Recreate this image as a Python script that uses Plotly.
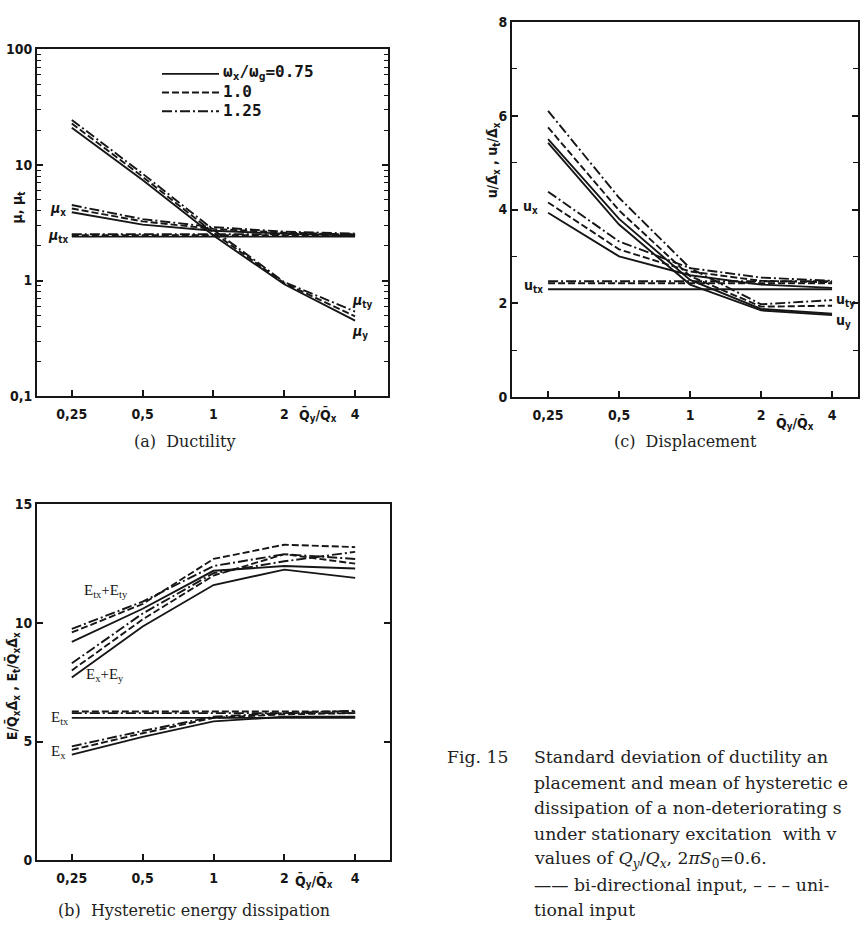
import plotly.graph_objects as go

W, H = 860, 937

# ---------------- data ----------------
ratio = [0.25, 0.5, 1, 2, 4]
ratio_text = ["0,25", "0,5", "1", "2", "4"]

# (a) ductility (omega_x/omega_g = 0.75, 1.0, 1.25)
mu_y_075 = [21.0, 7.4, 2.45, 0.93, 0.45]
mu_y_100 = [22.8, 7.9, 2.6, 0.95, 0.49]
mu_y_125 = [24.5, 8.4, 2.75, 0.97, 0.54]
mu_x_075 = [3.9, 3.05, 2.7, 2.55, 2.45]
mu_x_100 = [4.2, 3.25, 2.8, 2.6, 2.5]
mu_x_125 = [4.5, 3.4, 2.9, 2.65, 2.55]
mu_tx_075 = [2.4, 2.4, 2.4, 2.4, 2.4]
mu_tx_100 = [2.47, 2.47, 2.47, 2.47, 2.47]
mu_tx_125 = [2.52, 2.52, 2.52, 2.52, 2.52]

# (c) displacement
u_y_075 = [5.42, 3.68, 2.4, 1.85, 1.75]
u_ty_075 = [5.5, 3.8, 2.5, 1.88, 1.78]
u_y_100 = [5.75, 3.98, 2.58, 1.93, 1.95]
u_y_125 = [6.1, 4.25, 2.75, 1.98, 2.07]
u_x_075 = [3.93, 3.0, 2.6, 2.4, 2.33]
u_x_100 = [4.15, 3.15, 2.68, 2.48, 2.45]
u_x_125 = [4.38, 3.32, 2.75, 2.55, 2.48]
u_tx_075 = [2.3, 2.3, 2.3, 2.3, 2.3]
u_tx_100 = [2.43, 2.43, 2.43, 2.43, 2.43]
u_tx_125 = [2.47, 2.47, 2.47, 2.47, 2.47]

# (b) hysteretic energy
E_tsum_075 = [9.2, 10.6, 12.2, 12.4, 12.3]
E_tsum_100 = [9.6, 10.8, 12.7, 13.3, 13.2]
E_tsum_125 = [9.75, 10.9, 12.4, 12.9, 12.7]
E_sum_075 = [7.7, 9.85, 11.6, 12.25, 11.9]
E_sum_100 = [8.0, 10.15, 12.0, 12.9, 12.5]
E_sum_125 = [8.3, 10.4, 12.1, 12.6, 13.0]
E_tx_075 = [6.0, 6.0, 6.0, 6.0, 6.0]
E_tx_100 = [6.27, 6.27, 6.27, 6.27, 6.27]
E_tx_125 = [6.2, 6.2, 6.2, 6.2, 6.2]
E_x_075 = [4.45, 5.2, 5.85, 6.05, 6.05]
E_x_100 = [4.65, 5.35, 6.0, 6.15, 6.2]
E_x_125 = [4.8, 5.45, 6.05, 6.2, 6.3]

legend_labels = ["ω<sub>x</sub>/ω<sub>g</sub>=0.75", "1.0", "1.25"]

# ---------------- styling ----------------
INK = "#161616"
DASH = {"075": "solid", "100": "7px,3px", "125": "10px,3px,2px,3px"}
LW = 1.9


def px(x):
    return x / W


def py(y):
    return 1 - y / H


fig = go.Figure()


def add(xa, ya, yvals, key):
    fig.add_trace(go.Scatter(x=ratio, y=yvals, mode="lines", xaxis=xa, yaxis=ya,
                             line=dict(color=INK, width=LW, dash=DASH[key]),
                             showlegend=False, hoverinfo="skip"))


for v, k in [(mu_y_075, "075"), (mu_y_100, "100"), (mu_y_125, "125"),
             (mu_x_075, "075"), (mu_x_100, "100"), (mu_x_125, "125"),
             (mu_tx_075, "075"), (mu_tx_100, "100"), (mu_tx_125, "125")]:
    add("x", "y", v, k)

for v, k in [(u_y_075, "075"), (u_ty_075, "075"), (u_y_100, "100"), (u_y_125, "125"),
             (u_x_075, "075"), (u_x_100, "100"), (u_x_125, "125"),
             (u_tx_075, "075"), (u_tx_100, "100"), (u_tx_125, "125")]:
    add("x2", "y2", v, k)

for v, k in [(E_tsum_075, "075"), (E_tsum_100, "100"), (E_tsum_125, "125"),
             (E_sum_075, "075"), (E_sum_100, "100"), (E_sum_125, "125"),
             (E_tx_075, "075"), (E_tx_100, "100"), (E_tx_125, "125"),
             (E_x_075, "075"), (E_x_100, "100"), (E_x_125, "125")]:
    add("x3", "y3", v, k)

TICKFONT = dict(family="Liberation Sans Narrow, DejaVu Sans Condensed, Arial", size=14,
                color=INK, weight="bold")


def xaxis(dom, rng, anchor):
    return dict(domain=dom, range=rng, type="log", anchor=anchor,
                tickmode="array", tickvals=ratio, ticktext=ratio_text,
                ticks="inside", ticklen=6, tickwidth=1.5, tickcolor=INK,
                showline=True, linecolor=INK, linewidth=2, mirror=True,
                showgrid=False, zeroline=False, tickfont=TICKFONT, ticklabelstandoff=4)


def yaxis_common(dom, anchor):
    return dict(domain=dom, anchor=anchor, ticks="inside", ticklen=6, tickwidth=1.5,
                tickcolor=INK, showline=True, linecolor=INK, linewidth=2,
                mirror="ticks", showgrid=False, zeroline=False, tickfont=TICKFONT)


# panel (a)
xa_dom = [px(37), px(388)]
ya_dom = [py(395), py(42)]
# panel (c)
xc_dom = [px(512), px(858)]
yc_dom = [py(396), py(14)]
# panel (b)
xb_dom = [px(37), px(390)]
yb_dom = [py(867), py(505)]

minor_a = [m * d for d in (0.1, 1, 10) for m in range(2, 10)]

ya = yaxis_common(ya_dom, "x")
ya.update(type="log", range=[-1, 2], tickmode="array", tickvals=[0.1, 1, 10, 100],
          ticktext=["0,1", "1", "10", "100"],
          minor=dict(tickmode="array", tickvals=minor_a, ticks="inside", ticklen=4,
                     tickwidth=1.2, tickcolor=INK))
yc = yaxis_common(yc_dom, "x2")
yc.update(range=[0, 8], tickmode="array", tickvals=[0, 2, 4, 6, 8],
          minor=dict(tickmode="array", tickvals=[1, 3, 5, 7], ticks="inside", ticklen=5,
                     tickwidth=1.2, tickcolor=INK))
yb = yaxis_common(yb_dom, "x3")
yb.update(range=[0, 15], tickmode="array", tickvals=[0, 5, 10, 15])

fig.update_layout(
    width=W, height=H, autosize=False,
    margin=dict(l=0, r=0, t=0, b=0),
    paper_bgcolor="white", plot_bgcolor="white",
    xaxis=xaxis(xa_dom, [-0.750, 0.742], "y"),
    yaxis=ya,
    xaxis2=xaxis(xc_dom, [-0.755, 0.712], "y2"),
    yaxis2=yc,
    xaxis3=xaxis(xb_dom, [-0.750, 0.750], "y3"),
    yaxis3=yb,
    showlegend=False,
)

ann = []
LBL = dict(family="Liberation Serif, DejaVu Serif, serif", size=15, color=INK)
AX = dict(family="Liberation Sans Narrow, DejaVu Sans Condensed, Arial", size=14, color=INK,
          weight="bold")
SUB = dict(family="DejaVu Serif, Liberation Serif, serif", size=16, color="#222")
CAP = dict(family="DejaVu Serif, Liberation Serif, serif", size=17.3, color="#222")


def A(x, y, text, font, xanchor="center", angle=0):
    ann.append(dict(x=px(x), y=py(y), xref="paper", yref="paper", text=text,
                    showarrow=False, font=font, xanchor=xanchor, yanchor="middle",
                    textangle=angle))


# axis titles
A(318, 414, "Q̄<sub>y</sub>/Q̄<sub>x</sub>", AX)
A(795, 422, "Q̄<sub>y</sub>/Q̄<sub>x</sub>", AX)
A(314, 888, "Q̄<sub>y</sub>/Q̄<sub>x</sub>", AX)
A(18, 203, "μ, μ<sub>t</sub>", AX, angle=-90)
A(493, 155, "u/Δ̄<sub>x</sub> , u<sub>t</sub>/Δ̄<sub>x</sub>", AX, angle=-90)
A(12, 690, "E/Q̄<sub>x</sub>Δ̄<sub>x</sub> , E<sub>t</sub>/Q̄<sub>x</sub>Δ̄<sub>x</sub>", AX, angle=-90)

# curve labels (a)
A(58, 205, "<i>μ</i><sub>x</sub>", AX)
A(58, 232, "<i>μ</i><sub>tx</sub>", AX)
A(362, 298, "<i>μ</i><sub>ty</sub>", AX)
A(360, 330, "<i>μ</i><sub>y</sub>", AX)
# curve labels (c)
A(530, 202, "u<sub>x</sub>", AX)
A(533, 283, "u<sub>tx</sub>", AX)
A(845, 297, "u<sub>ty</sub>", AX)
A(843, 318, "u<sub>y</sub>", AX)
# curve labels (b)
A(106, 593, "E<sub>tx</sub>+E<sub>ty</sub>", LBL)
A(105, 679, "E<sub>x</sub>+E<sub>y</sub>", LBL)
A(60, 722, "E<sub>tx</sub>", LBL)
A(58, 757, "E<sub>x</sub>", LBL)

# legend of (a)
LEGF = dict(family="DejaVu Sans Mono, Liberation Mono, monospace", size=16, color=INK,
            weight="bold")
leg_y = [67, 86, 105]
shapes = []
for lab, yy, key in zip(legend_labels, leg_y, ["075", "100", "125"]):
    shapes.append(dict(type="line", xref="paper", yref="paper", x0=px(162), x1=px(219),
                       y0=py(yy), y1=py(yy), line=dict(color=INK, width=LW, dash=DASH[key])))
    A(221, yy - 1, lab, LEGF, xanchor="left")

# sub-captions
A(185, 441, "(a)  Ductility", SUB)
A(685, 441, "(c)  Displacement", SUB)
A(194, 918, "(b)  Hysteretic energy dissipation", SUB)

# figure caption (as visible in the cropped original)
A(445, 762, "Fig. 15", CAP, xanchor="left")
cap_lines = [
    "Standard deviation of ductility an",
    "placement and mean of hysteretic e",
    "dissipation of a non-deteriorating s",
    "under stationary excitation  with v",
    "values of <i>Q<sub>y</sub></i>/<i>Q<sub>x</sub></i>, 2<i>πS</i><sub>0</sub>=0.6.",
    "—— bi-directional input, – – – uni-",
    "tional input",
]
for i, t in enumerate(cap_lines):
    A(532, 762 + i * 26, t, CAP, xanchor="left")

fig.update_layout(annotations=ann, shapes=shapes)
fig.write_html("out.html")
